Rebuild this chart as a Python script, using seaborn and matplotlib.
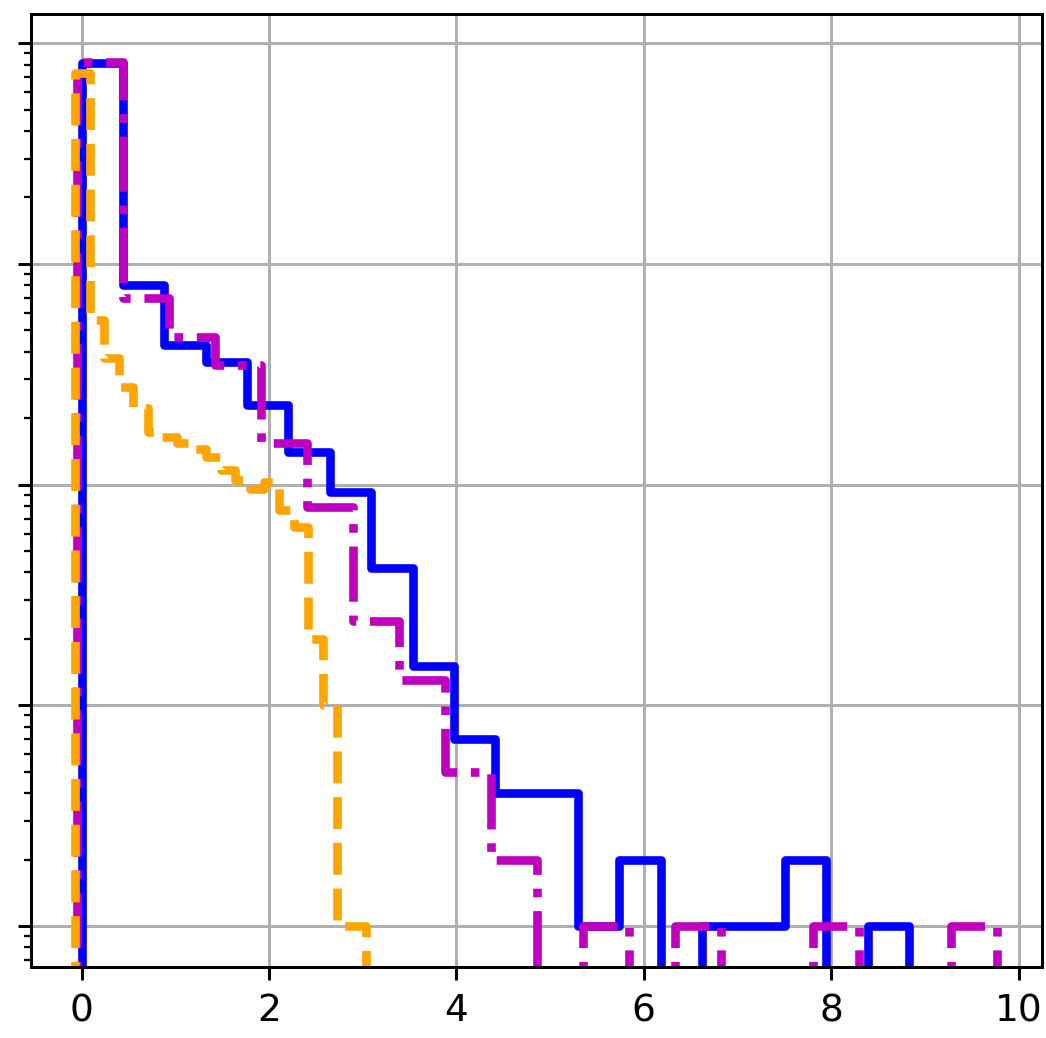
import numpy as np
import matplotlib.pyplot as plt
import seaborn as sns

# three step histograms, 20 equal bins each, log-scaled counts
n_bins = 20

# bin range (first edge, last edge) of each histogram
range_solid = (0.0, 8.83)
range_dashdot = (-0.05, 9.77)
range_dashed = (-0.07, 3.04)

# counts per bin
counts_solid = [8130, 803, 430, 359, 230, 141, 93, 42, 15, 7,
                4, 4, 1, 2, 0, 1, 1, 2, 0, 1]
counts_dashdot = [8220, 700, 465, 350, 155, 79, 24, 13, 5, 2,
                  0, 1, 0, 1, 0, 0, 1, 0, 0, 1]
counts_dashed = [7330, 557, 375, 277, 222, 173, 164, 154, 145, 133,
                 116, 105, 96, 103, 77, 64, 20, 10, 1, 1]

series = [
    (counts_solid, range_solid, "blue", "-"),
    (counts_dashdot, range_dashdot, "m", "-."),
    (counts_dashed, range_dashed, "orange", "--"),
]

dpi = 270
fig = plt.figure(figsize=(1046 / dpi, 1038 / dpi), dpi=dpi)
ax = fig.add_axes([31 / 1046, 1 - 967 / 1038, (1042 - 31) / 1046, (967 - 14) / 1038])

for counts, (lo, hi), color, ls in series:
    w = (hi - lo) / n_bins
    # one empty bin on each side so the outline drops to the bottom at both ends
    weights = np.r_[0, counts, 0]
    centers = np.linspace(lo - w / 2, hi + w / 2, n_bins + 2)
    sns.histplot(x=centers, weights=weights, bins=n_bins + 2,
                 binrange=(lo - w, hi + w), element="step", fill=False,
                 color=color, linestyle=ls, linewidth=2.3, ax=ax)

ax.set_yscale("log")
ax.set_xlim(-0.54, 10.25)
ax.set_ylim(0.652, 13560)
ax.set_xlabel("")
ax.set_ylabel("")
ax.tick_params(axis="y", which="both", labelleft=False)
ax.grid(True)

fig.savefig("out.png", dpi=dpi)
